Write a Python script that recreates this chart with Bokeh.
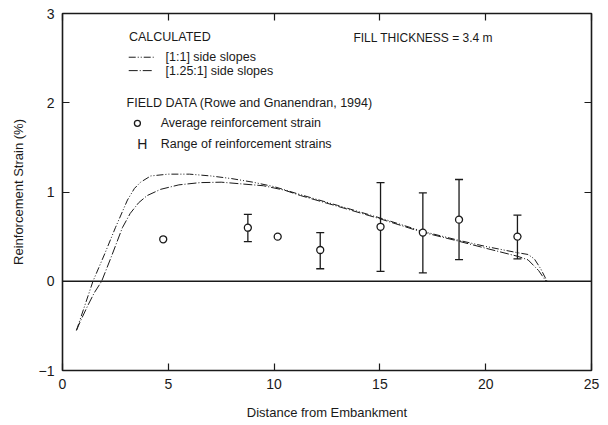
from bokeh.plotting import figure
from bokeh.models import (Range1d, LinearAxis, FixedTicker, Span, Whisker, TeeHead,
                          ColumnDataSource, Label, CustomJSTickFormatter)
from bokeh.embed import file_html
from bokeh.resources import INLINE

# ---- data ----
x_11 = [0.66, 1.0, 1.44, 2.0, 2.5, 3.07, 3.4, 3.69, 4.17, 5.0, 6.0, 7.0, 8.0, 9.0, 10.0,
        11.25, 13.0, 15.0, 17.0, 18.7, 20.0, 21.5, 22.0, 22.3, 22.6, 22.9]
y_11 = [-0.55, -0.31, 0.0, 0.31, 0.60, 0.91, 1.04, 1.11, 1.18, 1.20, 1.20, 1.18, 1.15, 1.11, 1.06,
        0.97, 0.85, 0.71, 0.56, 0.46, 0.39, 0.32, 0.30, 0.25, 0.14, 0.0]

x_125 = [0.66, 0.9, 1.2, 1.5, 1.85, 2.3, 2.83, 3.2, 3.6, 4.0, 4.64, 5.5, 6.5, 7.5, 8.5, 9.5,
         10.5, 11.25, 13.0, 15.0, 17.0, 18.7, 20.0, 21.5, 22.0, 22.5, 22.85]
y_125 = [-0.55, -0.42, -0.27, -0.13, 0.0, 0.27, 0.60, 0.76, 0.88, 0.96, 1.03, 1.08, 1.105, 1.11, 1.09, 1.07,
         1.02, 0.96, 0.84, 0.70, 0.55, 0.45, 0.37, 0.28, 0.24, 0.12, 0.0]

field_x = [4.76, 8.76, 10.17, 12.18, 15.03, 17.03, 18.74, 21.5]
field_avg = [0.47, 0.60, 0.50, 0.35, 0.61, 0.545, 0.69, 0.50]
bar_x = [8.76, 12.18, 15.03, 17.03, 18.74, 21.5]
bar_lo = [0.445, 0.14, 0.11, 0.093, 0.243, 0.25]
bar_hi = [0.75, 0.545, 1.105, 0.99, 1.14, 0.74]

x_ticks = [0, 5, 10, 15, 20, 25]
y_ticks = [-1, 0, 1, 2, 3]

FONT = "Liberation Sans"
INK = "#1a1a1a"

p = figure(frame_width=529, frame_height=357, x_range=Range1d(0, 25), y_range=Range1d(-1, 3),
           output_backend="svg", toolbar_location=None, x_axis_location=None, y_axis_location=None,
           min_border_left=62, min_border_right=17, min_border_top=13, min_border_bottom=54)
p.grid.visible = False
p.outline_line_color = INK
p.outline_line_width = 1.6
p.background_fill_color = "white"
p.border_fill_color = "white"


def mk_axis(ticks, show_labels, label=None):
    ax = LinearAxis(ticker=FixedTicker(ticks=ticks))
    ax.axis_line_color = None
    ax.major_tick_in = 7
    ax.major_tick_out = 0
    ax.major_tick_line_color = INK
    ax.major_tick_line_width = 1.2
    ax.minor_tick_line_color = None
    if show_labels:
        ax.major_label_text_font = FONT
        ax.major_label_text_font_size = "14px"
        ax.major_label_text_color = INK
        ax.major_label_standoff = 8
    else:
        ax.formatter = CustomJSTickFormatter(code="return ''")
        ax.major_label_standoff = 0
    if label:
        ax.axis_label = label
        ax.axis_label_text_font = FONT
        ax.axis_label_text_font_size = "13px"
        ax.axis_label_text_font_style = "normal"
        ax.axis_label_text_color = INK
    return ax


bx = mk_axis(x_ticks, True, "Distance from Embankment")
bx.axis_label_standoff = 13
p.add_layout(bx, "below")
ly = mk_axis(y_ticks, True, "Reinforcement Strain (%)")
ly.axis_label_standoff = 10
p.add_layout(ly, "left")
p.add_layout(mk_axis(x_ticks, False), "above")
p.add_layout(mk_axis(y_ticks, False), "right")

p.add_layout(Span(location=0, dimension="width", line_color=INK, line_width=1.4))

# calculated curves
p.line(x_11, y_11, line_color=INK, line_width=1.0, line_dash="7 2 1 2 1 2")
p.line(x_125, y_125, line_color=INK, line_width=1.0, line_dash="9 2 1 2")

# field data
src = ColumnDataSource(dict(x=bar_x, lo=bar_lo, hi=bar_hi))
p.add_layout(Whisker(source=src, base="x", lower="lo", upper="hi", dimension="height",
                     line_color=INK, line_width=1.3,
                     upper_head=TeeHead(size=8, line_color=INK, line_width=1.3),
                     lower_head=TeeHead(size=8, line_color=INK, line_width=1.3)))
p.scatter(field_x, field_avg, marker="circle", size=7, fill_color="white",
          line_color=INK, line_width=1.3)

# legend / notes
def txt(x, y, s, size="12.5px"):
    p.add_layout(Label(x=x, y=y, text=s, text_font=FONT, text_font_size=size,
                       text_color=INK, text_baseline="middle", text_align="left"))

txt(3.14, 2.735, "CALCULATED")
p.line([3.13, 4.31], [2.51, 2.51], line_color=INK, line_width=1.0, line_dash="7 2 1 2 1 2")
txt(4.87, 2.51, "[1:1] side slopes")
p.line([3.13, 4.31], [2.36, 2.36], line_color=INK, line_width=1.0, line_dash="9 2 1 2")
txt(4.87, 2.36, "[1.25:1] side slopes")
txt(3.03, 2.0, "FIELD DATA (Rowe and Gnanendran, 1994)")
p.scatter([3.54], [1.77], marker="circle", size=6, fill_color="white", line_color=INK, line_width=1.3)
txt(4.64, 1.77, "Average reinforcement strain")
p.add_layout(Label(x=3.77, y=1.54, text="H", text_font=FONT, text_font_size="14px",
                   text_color=INK, text_baseline="middle", text_align="center"))
txt(4.64, 1.54, "Range of reinforcement strains")
txt(13.75, 2.72, "FILL THICKNESS = 3.4 m", size="12px")

open("out.html", "w").write(file_html(p, INLINE))
